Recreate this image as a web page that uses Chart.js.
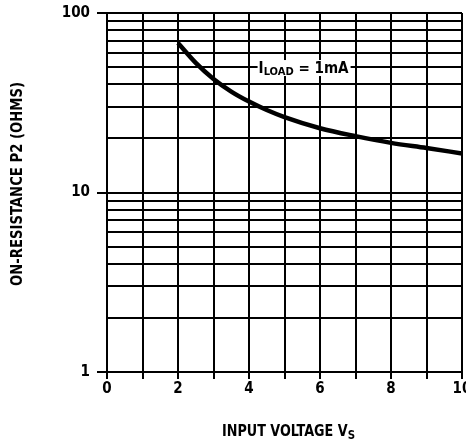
<!DOCTYPE html>
<html>
<head>
<meta charset="utf-8">
<script src="https://cdn.jsdelivr.net/npm/chart.js@4.4.1/dist/chart.umd.min.js"></script>
<style>
  html, body { margin: 0; padding: 0; background: #fff; }
  #wrap { width: 466px; height: 441px; position: relative; }
</style>
</head>
<body>
<div id="wrap"><canvas id="c" width="466" height="441"></canvas></div>
<script>
// ---- data ----
const inputVoltage = [2, 2.5, 3, 3.5, 4, 4.5, 5, 6, 7, 8, 9, 10];
const onResistance = [68, 52.7, 42.9, 36.5, 32.1, 28.8, 26.3, 22.8, 20.6, 18.9, 17.7, 16.5];
const xTickLabels = ['0', '2', '4', '6', '8', '10'];
const yTickLabels = ['1', '10', '100'];
const yGridValues = [1, 2, 3, 4, 5, 6, 7, 8, 9, 10, 20, 30, 40, 50, 60, 70, 80, 90, 100];
const yTitle = 'ON-RESISTANCE P2 (OHMS)';
const xTitleMain = 'INPUT VOLTAGE V';
const xTitleSub = 'S';
const curveLabelMain = 'I';
const curveLabelSub = 'LOAD';
const curveLabelRest = ' = 1mA';

const FONT = "'DejaVu Sans Condensed', 'Liberation Sans Narrow', 'DejaVu Sans', sans-serif";

const points = inputVoltage.map((x, i) => ({ x: x, y: onResistance[i] }));

const textPlugin = {
  id: 'texts',
  afterDraw(chart) {
    const ctx = chart.ctx;
    const xs = chart.scales.x, ys = chart.scales.y;
    ctx.save();
    ctx.fillStyle = '#000';
    // Y title
    ctx.save();
    ctx.translate(18, 184);
    ctx.rotate(-Math.PI / 2);
    ctx.font = 'bold 16px ' + FONT;
    let w = ctx.measureText(yTitle).width;
    ctx.scale(204 / w, 1);
    ctx.textAlign = 'center';
    ctx.textBaseline = 'middle';
    ctx.fillText(yTitle, 0, 0);
    ctx.restore();

    // X title with subscript
    ctx.save();
    ctx.font = 'bold 15px ' + FONT;
    const wm = ctx.measureText(xTitleMain).width;
    ctx.font = 'bold 12px ' + FONT;
    const ws = ctx.measureText(xTitleSub).width;
    const total = wm + ws;
    const targetW = 133;
    const left = 222, base = 436;
    ctx.translate(left, base);
    ctx.scale(targetW / total, 1);
    ctx.textBaseline = 'alphabetic';
    ctx.textAlign = 'left';
    ctx.font = 'bold 15px ' + FONT;
    ctx.fillText(xTitleMain, 0, 0);
    ctx.font = 'bold 12px ' + FONT;
    ctx.fillText(xTitleSub, wm, 3);
    ctx.restore();

    // Curve label
    ctx.save();
    const lx = xs.getPixelForValue(4.27);
    const ly = ys.getPixelForValue(50);
    ctx.font = 'bold 15px ' + FONT;
    const w1 = ctx.measureText(curveLabelMain).width;
    const w3 = ctx.measureText(curveLabelRest).width;
    ctx.font = 'bold 11px ' + FONT;
    const w2 = ctx.measureText(curveLabelSub).width;
    const lw = w1 + w2 + w3;
    const target = 90;
    const sc = target / lw;
    ctx.fillStyle = '#fff';
    ctx.fillRect(lx - 1, ly - 7, target + 3, 16);
    ctx.fillStyle = '#000';
    ctx.translate(lx, ly + 6);
    ctx.scale(sc, 1);
    ctx.textBaseline = 'alphabetic';
    ctx.font = 'bold 15px ' + FONT;
    ctx.fillText(curveLabelMain, 0, 0);
    ctx.font = 'bold 11px ' + FONT;
    ctx.fillText(curveLabelSub, w1, 2);
    ctx.font = 'bold 15px ' + FONT;
    ctx.fillText(curveLabelRest, w1 + w2, 0);
    ctx.restore();

    ctx.restore();
  }
};

new Chart(document.getElementById('c'), {
  type: 'scatter',
  data: {
    datasets: [{
      data: points,
      showLine: true,
      borderColor: '#000',
      borderWidth: 4.5,
      pointRadius: 0,
      cubicInterpolationMode: 'monotone',
      borderCapStyle: 'butt',
      fill: false
    }]
  },
  options: {
    responsive: false,
    animation: false,
    devicePixelRatio: 1,
    layout: { padding: { top: 13, right: 4, left: 0, bottom: 0 } },
    plugins: { legend: { display: false }, tooltip: { enabled: false }, title: { display: false } },
    scales: {
      x: {
        type: 'linear',
        min: 0, max: 10,
        border: { display: true, color: '#000', width: 2 },
        grid: { color: '#000', lineWidth: 2, tickLength: 7, tickColor: '#000', drawTicks: true },
        ticks: {
          stepSize: 1,
          autoSkip: false,
          maxRotation: 0,
          padding: 1,
          color: '#000',
          font: { family: FONT, size: 15, weight: 'bold' },
          callback: (v) => xTickLabels.includes(String(v)) ? String(v) : ''
        },
        afterFit(scale) { scale.height = 69; scale.paddingLeft = 0; scale.paddingRight = 0; }
      },
      y: {
        type: 'logarithmic',
        min: 1, max: 100,
        border: { display: true, color: '#000', width: 2 },
        grid: {
          color: '#000', lineWidth: 2, tickLength: 10, drawTicks: true,
          tickColor: (ctx) => (ctx.tick && yTickLabels.includes(String(ctx.tick.value))) ? '#000' : 'rgba(0,0,0,0)'
        },
        ticks: {
          autoSkip: false,
          padding: 7,
          color: '#000',
          font: { family: FONT, size: 15, weight: 'bold' },
          callback: (v) => yTickLabels.includes(String(v)) ? String(v) : ''
        },
        afterBuildTicks(scale) { scale.ticks = yGridValues.map(v => ({ value: v })); },
        afterFit(scale) { scale.width = 107; scale.paddingTop = 0; scale.paddingBottom = 0; }
      }
    }
  },
  plugins: [textPlugin]
});
</script>
</body>
</html>
